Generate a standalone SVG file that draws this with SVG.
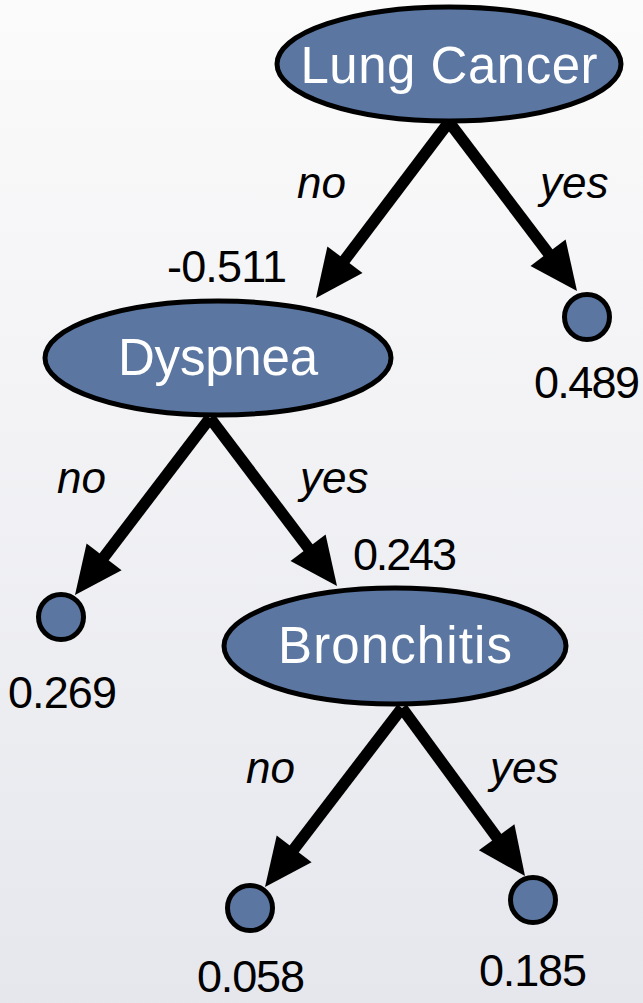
<svg xmlns="http://www.w3.org/2000/svg" width="643" height="1003" viewBox="0 0 643 1003">
  <defs>
    <linearGradient id="bg" x1="0" y1="0" x2="0" y2="1">
      <stop offset="0" stop-color="#fbfbfb"/>
      <stop offset="1" stop-color="#e6e7ed"/>
    </linearGradient>
    <style>
      .node { fill: #5a76a1; stroke: #000; stroke-width: 5; }
      .leaf { fill: #5a76a1; stroke: #000; stroke-width: 5; }
      .name { font-family: "Liberation Sans", Arial, sans-serif; font-size: 51px; fill: #ffffff; text-anchor: middle; }
      .edge { stroke: #000; stroke-width: 11.5; fill: none; }
      .head { fill: #000; }
      .branch { font-family: "Liberation Sans", Arial, sans-serif; font-style: italic; font-size: 44px; fill: #000; }
      .value { font-family: "Liberation Sans", Arial, sans-serif; font-size: 45px; fill: #000; }
    </style>
  </defs>

  <rect width="643" height="1003" fill="url(#bg)"/>

  <!-- connectors: shafts, heads and branch labels -->
  <g id="connectors">
    <line class="edge" x1="449" y1="122" x2="340.1" y2="266.1"/>
    <polygon class="head" points="316,298 362.5,273 327.4,246.4"/>
    <line class="edge" x1="449" y1="122" x2="552.8" y2="259.1"/>
    <polygon class="head" points="577,291 565.6,239.4 530.5,266"/>

    <line class="edge" x1="210" y1="418" x2="99.3" y2="563.2"/>
    <polygon class="head" points="75,595 121.6,570.2 86.6,543.5"/>
    <line class="edge" x1="210" y1="418" x2="312.9" y2="554.1"/>
    <polygon class="head" points="337,586 325.6,534.4 290.5,561"/>

    <line class="edge" x1="402" y1="708" x2="289.3" y2="855.2"/>
    <polygon class="head" points="265,887 311.6,862.3 276.7,835.5"/>
    <line class="edge" x1="402" y1="708" x2="501.4" y2="843.7"/>
    <polygon class="head" points="525,876 514.4,824.3 478.9,850.3"/>

    <text class="branch" x="297" y="198">no</text>
    <text class="branch" x="540" y="198">yes</text>
    <text class="branch" x="57" y="493">no</text>
    <text class="branch" x="300" y="493">yes</text>
    <text class="branch" x="246" y="783">no</text>
    <text class="branch" x="490" y="783">yes</text>
  </g>

  <!-- split nodes -->
  <g id="lung-cancer">
    <ellipse class="node" cx="449" cy="64" rx="172" ry="57"/>
    <text class="name" x="449" y="83" textLength="297">Lung Cancer</text>
  </g>
  <g id="dyspnea">
    <ellipse class="node" cx="218" cy="358" rx="173" ry="57"/>
    <text class="name" x="218" y="375" textLength="200">Dyspnea</text>
  </g>
  <g id="bronchitis">
    <ellipse class="node" cx="395" cy="646" rx="171" ry="58"/>
    <text class="name" x="395" y="663" textLength="234">Bronchitis</text>
  </g>

  <!-- node values -->
  <g id="value-dyspnea">
    <text class="value" x="167" y="282" textLength="120">-0.511</text>
  </g>
  <g id="value-bronchitis">
    <text class="value" x="353" y="570" textLength="104">0.243</text>
  </g>

  <!-- leaves -->
  <g id="leaf-lung-yes">
    <circle class="leaf" cx="587" cy="317" r="22.5"/>
    <text class="value" x="534" y="398" textLength="106">0.489</text>
  </g>
  <g id="leaf-dyspnea-no">
    <circle class="leaf" cx="61" cy="617" r="22.5"/>
    <text class="value" x="8" y="708" textLength="109">0.269</text>
  </g>
  <g id="leaf-bronchitis-no">
    <circle class="leaf" cx="250" cy="908" r="22.5"/>
    <text class="value" x="197" y="992" textLength="108">0.058</text>
  </g>
  <g id="leaf-bronchitis-yes">
    <circle class="leaf" cx="533" cy="900" r="22.5"/>
    <text class="value" x="479" y="986" textLength="108">0.185</text>
  </g>
</svg>
